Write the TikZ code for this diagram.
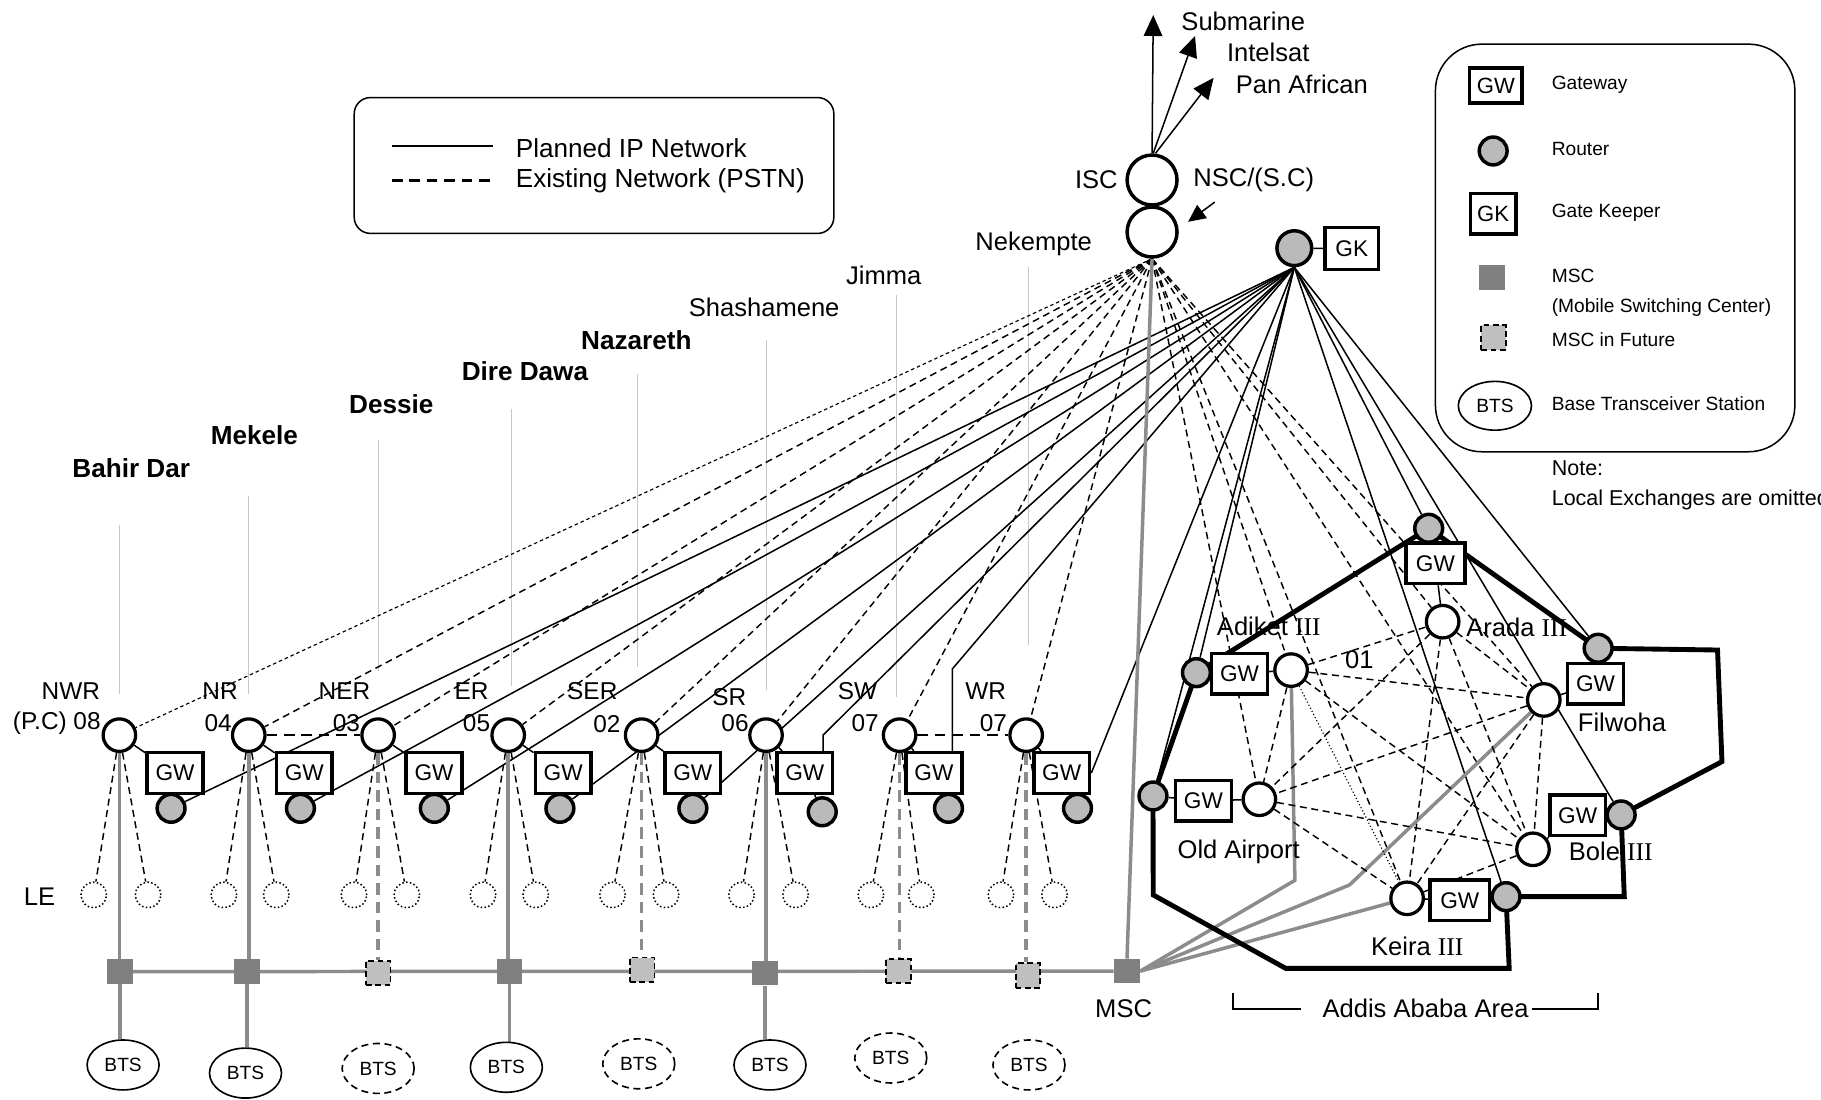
\documentclass[tikz,border=0pt]{standalone}
\usepackage{fontspec}
\setmainfont{Liberation Sans}
\newfontfamily\romnum{Liberation Serif}
\usetikzlibrary{shapes.geometric,arrows.meta,calc}
\pgfdeclarelayer{wires}
\pgfsetlayers{wires,main}
\newcommand\fntMain{\fontsize{22}{26}\selectfont}
\newcommand\fntReg{\fontsize{21}{24}\selectfont}
\newcommand\fntCity{\fontsize{22.5}{26}\selectfont\bfseries}
\newcommand\fntLeg{\fontsize{16.5}{20}\selectfont}
\newcommand\fntNote{\fontsize{18.5}{22}\selectfont}
\newcommand\fntGW{\fontsize{19.5}{22}\selectfont}
\newcommand\fntBTS{\fontsize{16.5}{20}\selectfont}
\newcommand\fntLegA{\fontsize{22.5}{26}\selectfont}
\newcommand\fntIcon{\fontsize{19}{22}\selectfont}
\begin{document}
\begin{tikzpicture}[x=1pt,y=-1pt,
  stn/.style={circle,draw,line width=2.8pt,minimum size=28pt,inner sep=0pt,fill=white},
  gwbox/.style={rectangle,draw,line width=3pt,minimum width=48pt,minimum height=35pt,inner sep=0pt,fill=white,font=\fntGW},
  rtr/.style={circle,draw,line width=3pt,minimum size=24pt,inner sep=0pt,fill=black!27},
  mscon/.style={rectangle,fill=black!50,minimum width=22pt,minimum height=21pt,inner sep=0pt},
  mscoff/.style={rectangle,fill=black!25,draw,line width=1.6pt,dash pattern=on 5pt off 3pt,minimum width=21pt,minimum height=21pt,inner sep=0pt},
  btson/.style={ellipse,draw,line width=1.4pt,minimum width=62pt,minimum height=43pt,inner sep=0pt,fill=white,font=\fntBTS},
  btsoff/.style={btson,dash pattern=on 6pt off 4pt},
  lex/.style={circle,draw,line width=1.3pt,dash pattern=on 1.3pt off 2pt,minimum size=22pt,inner sep=0pt},
  txt/.style={inner sep=0pt,font=\fntMain},
  reg/.style={inner sep=0pt,font=\fntReg},
  city/.style={inner sep=0pt,font=\fntCity},
  leg/.style={inner sep=0pt,anchor=west,font=\fntLeg},
  ip/.style={line width=1.3pt},
  pstn/.style={line width=1.25pt,dash pattern=on 6pt off 4pt},
  pstnfine/.style={line width=1pt,dash pattern=on 3pt off 2.5pt},
  pstnbold/.style={line width=2.2pt,dash pattern=on 9pt off 6pt},
  mob/.style={line width=3pt,draw=black!45},
  mobfut/.style={mob,dash pattern=on 10pt off 6pt},
  areaedge/.style={line width=4.2pt},
  pointer/.style={line width=0.6pt,draw=black!22},
  bigtip/.style={-{Triangle[length=18pt,width=16pt]}}
]
\useasboundingbox (0,0) rectangle (1568,947);
\clip (0,0) rectangle (1568,947);

% ---------------- legends ----------------
\draw[line width=1.3pt,rounded corners=14pt] (305,84) rectangle (718,201);
\draw[ip] (337.6,125.7) -- (424.4,125.7);
\draw[pstnbold,line width=2pt] (337.6,155.5) -- (424.4,155.5);
\node[inner sep=0pt,anchor=west,font=\fntLegA] (tplan) at (444,128) {Planned IP Network};
\node[inner sep=0pt,anchor=west,font=\fntLegA] (texist) at (444,155.5) {Existing Network (PSTN)};

\draw[line width=1.3pt,rounded corners=40pt] (1236,38) rectangle (1545.5,389);
\node[gwbox,minimum width=45pt,minimum height=30pt,font=\fntIcon] (lgw) at (1288,73.6) {\raisebox{-4pt}{GW}};
\node[leg] (tgate) at (1336,73) {Gateway};
\node[rtr,minimum size=24pt] (lrt) at (1285.7,130) {};
\node[leg] (trout) at (1336,128) {Router};
\node[gwbox,minimum width=39pt,minimum height=35pt,font=\fntIcon] (lgk) at (1285.7,184) {GK};
\node[leg] (tkeep) at (1336,183.5) {Gate Keeper};
\node[mscon] (lmsc) at (1284.7,239) {};
\node[leg] (tmsc) at (1336,237.6) {MSC};
\node[leg] (tmsc2) at (1336,264.6) {(Mobile Switching Center)};
\node[mscoff] (lmscf) at (1286,290.6) {};
\node[leg] (tfut) at (1336,292.5) {MSC in Future};
\node[btson,minimum width=63pt,minimum height=42pt] (lbts) at (1287.2,349.4) {BTS};
\node[leg] (tbts) at (1336,347.3) {Base Transceiver Station};
\node[leg,font=\fntNote] (tnote) at (1336,403) {Note:};
\node[leg,font=\fntNote] (tnote2) at (1336,430.5) {Local Exchanges are omitted};

% ---------------- international / national switching centre ----------------
\node[stn,minimum size=43pt,line width=3pt] (isc) at (992,155) {};
\node[stn,minimum size=43pt,line width=3pt] (nsc) at (992,199.8) {};
\node[txt] (tisc) at (944,155) {ISC};
\node[txt] (tnsc) at (1079.5,155) {NSC/(S.C)};
\coordinate (t1) at (993,13);
\coordinate (t2) at (1029,31);
\coordinate (t3) at (1045,67);
\coordinate (s0) at (1046,174);
\coordinate (s1) at (1023,191);
\node[txt] (tsub) at (1070.5,18) {Submarine};
\node[txt] (tint) at (1092,45) {Intelsat};
\node[txt] (tpan) at (1121,73) {Pan African};

% gatekeeper
\node[rtr,minimum size=30pt] (gkr) at (1114.5,213.7) {};
\node[gwbox,minimum width=46pt,minimum height=36pt] (gk) at (1164,214) {GK};

% ---------------- regional centres ----------------
\foreach \n/\x in {1/102.8,2/214.2,3/325.6,4/437.6,5/552.5,6/659.6,7/774.6,8/883.6}
  \node[stn] (c\n) at (\x,633) {};
\foreach \n/\x in {1/150.7,2/262,3/373.7,4/484.9,5/596.6,6/693,7/804.2,8/914.2}
  \node[gwbox] (g\n) at (\x,665.6) {GW};
\foreach \n/\x/\y in {1/147.3/696,2/258.7/696,3/374/696,4/482.1/696,5/596.6/696,6/708/699,7/816.7/696,8/927.8/696}
  \node[rtr] (r\n) at (\x,\y) {};
\foreach \n/\xa/\xb in {1/80.7/127.5,2/192.8/237.9,3/304.8/350.3,4/415.9/461.3,5/527.4/573.5,6/638.5/685,7/749.9/793.3,8/861.9/908}{
  \node[lex] (la\n) at (\xa,770.6) {};
  \node[lex] (lb\n) at (\xb,770.6) {};
}
\node[mscon] (m1) at (103.3,836.6) {};
\node[mscon] (m2) at (212.5,836.6) {};
\node[mscoff] (m3) at (325.7,838) {};
\node[mscon] (m4) at (438.7,836.6) {};
\node[mscoff] (m5) at (553,835) {};
\node[mscon] (m6) at (658.5,838) {};
\node[mscoff] (m7) at (773.6,836) {};
\node[mscoff] (m8) at (885,840) {};
\node[mscon,minimum width=22.5pt] (msc) at (970.4,836.2) {};
\node[btson] (b1) at (106,917) {BTS};
\node[btson] (b2) at (211.4,924) {BTS};
\node[btsoff] (b3) at (325.6,920) {BTS};
\node[btson] (b4) at (436,919) {BTS};
\node[btsoff] (b5) at (550,916) {BTS};
\node[btson] (b6) at (663,917) {BTS};
\node[btsoff] (b7) at (767,911) {BTS};
\node[btsoff] (b8) at (886,917) {BTS};

\node[reg] (n1) at (61,595.5) {NWR};
\node[reg] (k1) at (48.9,622.8) {(P.C) 08};
\node[reg] (n2) at (189.5,595.5) {NR};
\node[reg] (k2) at (187.8,622.8) {04};
\node[reg] (n3) at (296.6,595.5) {NER};
\node[reg] (k3) at (298.2,622.8) {03};
\node[reg] (n4) at (406,595.5) {ER};
\node[reg] (k4) at (410.3,622.8) {05};
\node[reg] (n5) at (510,595.5) {SER};
\node[reg] (k5) at (522.5,623.4) {02};
\node[reg] (n6) at (628,600) {SR};
\node[reg] (k6) at (632.9,623) {06};
\node[reg] (n7) at (738.3,595.5) {SW};
\node[reg] (k7) at (744.9,623) {07};
\node[reg] (n8) at (848.7,595.5) {WR};
\node[reg] (k8) at (855.3,623) {07};
\node[txt] (tle) at (34,772) {LE};
\node[txt] (tmscl) at (967.5,868.8) {MSC};

% city names
\node[city] (y1) at (113,403) {Bahir Dar};
\node[city] (y2) at (219,375) {Mekele};
\node[city] (y3) at (337,348) {Dessie};
\node[city] (y4) at (452,320) {Dire Dawa};
\node[city] (y5) at (548,293) {Nazareth};
\node[txt] (y6) at (658,265) {Shashamene};
\node[txt] (y7) at (761,237) {Jimma};
\node[txt] (y8) at (890,210) {Nekempte};

% ---------------- Addis Ababa area ----------------
\node[rtr] (tr) at (1230.2,454.9) {};
\node[gwbox,minimum width=51pt] (tgw) at (1236,485) {GW};
\node[stn] (ac) at (1242.2,535.3) {};
\node[rtr] (adr) at (1030.2,579.2) {};
\node[gwbox] (adgw) at (1067.3,580) {GW};
\node[stn] (adc) at (1111.7,577) {};
\node[rtr] (fr) at (1376.1,558.2) {};
\node[gwbox] (fgw) at (1373.9,588.7) {GW};
\node[stn] (fc) at (1329.3,602.7) {};
\node[rtr] (oar) at (992.8,685.4) {};
\node[gwbox] (oagw) at (1036.2,689.6) {GW};
\node[stn] (oac) at (1084.4,688.2) {};
\node[rtr] (br) at (1395.9,701.7) {};
\node[gwbox] (bgw) at (1358.5,702) {GW};
\node[stn] (bc) at (1320,731.3) {};
\node[stn] (kc) at (1211.6,773.5) {};
\node[gwbox,minimum width=51pt] (kgw) at (1257,775.2) {GW};
\node[rtr] (kr) at (1296.8,772.1) {};

\node[txt] (tad) at (1092.5,539.6) {Adiket {\romnum III}};
\node[txt] (tar) at (1306,540.4) {Arada {\romnum III}};
\node[txt] (t01) at (1170.4,567.7) {01};
\node[txt] (tfi) at (1396.6,622.2) {Filwoha};
\node[txt] (toa) at (1066.6,733.3) {Old Airport};
\node[txt] (tbo) at (1387,733.3) {Bole {\romnum III}};
\node[txt] (tke) at (1220.4,815.1) {Keira {\romnum III}};
\node[txt] (taa) at (1227.5,868) {Addis Ababa Area};

\coordinate (sb6) at (708.7,633);
\coordinate (sb7) at (820,576);
\coordinate (gb1) at (1115,758);
\coordinate (gb2) at (1162,762);
\coordinate (q1) at (993,770.6);
\coordinate (q2) at (1107,833.8);
\coordinate (q3) at (1299.5,833.8);
\coordinate (q4) at (1398.6,772);
\coordinate (q5) at (1482.7,655.8);
\coordinate (q6) at (1478.9,559.7);

% arrows to the outside world
\draw[ip,bigtip] (isc.north) -- (t1);
\draw[ip,bigtip] ([xshift=1pt]isc.north) -- (t2);
\draw[ip,bigtip] ([xshift=3pt]isc.north) -- (t3);
\draw[ip,-{Triangle[length=15pt,width=14pt]}] (s0) -- (s1);

% ---------------- connections (drawn underneath) ----------------
\begin{pgfonlayer}{wires}
\fill[white] (0,0) rectangle (1568,947);
% pointers from city names
\draw[pointer] (103,452) -- (103,598);
\draw[pointer] (214,427) -- (214,598);
\draw[pointer] (326,379) -- (326,578);
\draw[pointer] (440,352) -- (440,591);
\draw[pointer] (549,322) -- (549,574);
\draw[pointer] (660,293) -- (660,594);
\draw[pointer] (771.5,254) -- (771.5,600);
\draw[pointer] (885.5,230) -- (885.5,555);

% planned IP network from the gatekeeper
\draw[ip] (gkr) -- (gk);
\foreach \t in {r1,r2,r3,r4,r5,tr,adr,oar,fr,br,kr}
  \draw[ip] (gkr.south) -- (\t);
\draw[ip] (gkr.south) -- (sb6) -- (sb6 |- g6.north);
\draw[ip] (gkr.south) -- (sb7) -- (sb7 |- g7.north);
\draw[ip] (gkr.south) -- (g8.east);

% existing PSTN from the national switching centre
\draw[pstnfine] (nsc.south) -- (c1);
\foreach \t in {c2,c3,c4,c5,c6,c7,c8,adc,ac,fc,oac,bc,kc}
  \draw[pstn] (nsc.south) -- (\t);
\draw[pstnbold] (c2) -- (c3);
\draw[pstnbold] (c7) -- (c8);

% regional exchange, gateway, router and local exchanges
\foreach \i in {1,...,8}{
  \draw[ip] (c\i) -- (g\i);
  \draw[ip] (g\i) -- (r\i);
  \draw[pstn] (c\i) -- (la\i);
  \draw[pstn] (c\i) -- (lb\i);
}

% mobile network
\draw[mob] (m1) -- (msc);
\foreach \i in {1,2,4,6}{
  \draw[mob] (c\i) -- (c\i |- m\i.north);
  \draw[mob] (m\i.south) -- (m\i.south |- b\i.north);
}
\foreach \i in {3,5,7,8}
  \draw[mobfut] (c\i) -- (c\i |- m\i.north);
\draw[mob] (msc.north) -- (nsc.south);
\draw[mob] (msc.east) -- (gb1) -- (adc);
\draw[mob] (msc.east) -- (gb2) -- (fc);
\draw[mob] (msc.east) -- (kc);

% Addis Ababa ring
\draw[areaedge] (tr.center) -- (adr.center) -- (oar.center) -- (q1) -- (q2) -- (q3)
  -- (kr.center) -- (q4) -- (br.center) -- (q5) -- (q6) -- (fr.center) -- cycle;

% local links in Addis Ababa
\draw[ip] (adr) -- (adgw) -- (adc);
\draw[ip] (oar) -- (oagw) -- (oac);
\draw[ip] (kc) -- (kgw) -- (kr);
\draw[ip] (tr) -- (tgw) -- (ac);
\draw[ip] (fc) -- (fgw) -- (fr);
\draw[ip] (bc) -- (bgw) -- (br);
\foreach \a/\b in {adc/ac,adc/fc,adc/oac,adc/bc,ac/fc,ac/oac,ac/bc,ac/kc,fc/oac,fc/bc,fc/kc,oac/bc,oac/kc,bc/kc}
  \draw[pstn] (\a) -- (\b);
\draw[line width=1pt,dash pattern=on 1pt off 2pt] (adc) -- (kc);

% area bracket
\draw[ip] (1061.5,855.3) -- (1061.5,869) -- (1120.6,869);
\draw[ip] (1319,869) -- (1375.8,869) -- (1375.8,855);
\end{pgfonlayer}
\end{tikzpicture}
\end{document}
